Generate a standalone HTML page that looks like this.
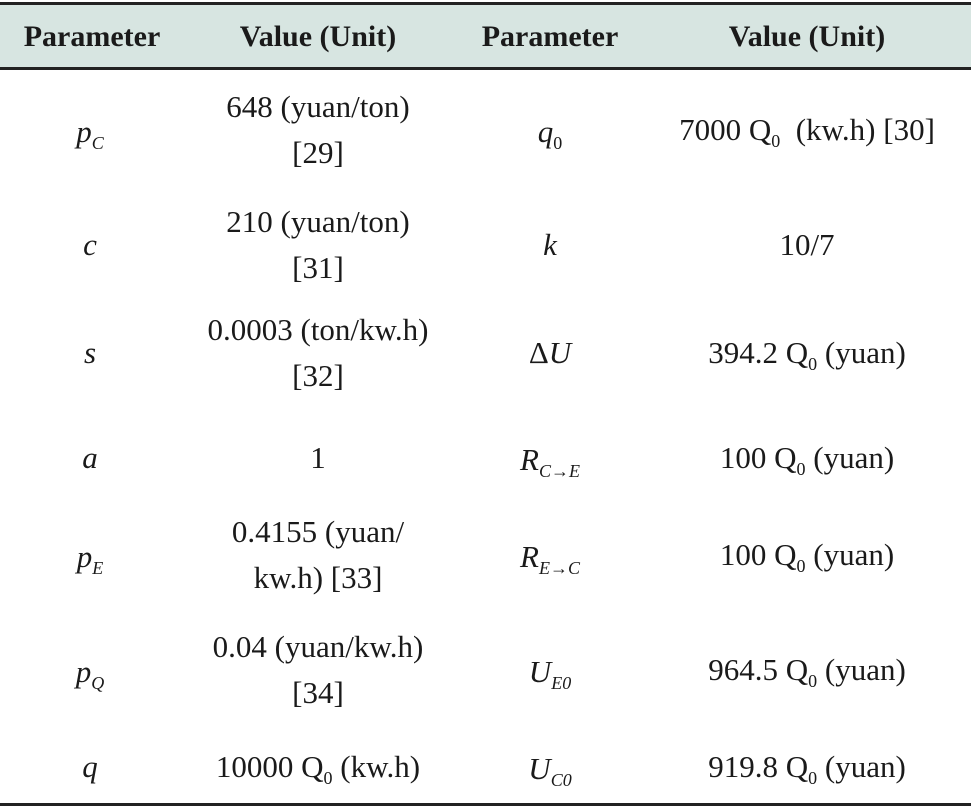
<!DOCTYPE html>
<html><head><meta charset="utf-8"><style>
body{margin:0;width:971px;height:808px;background:#fff;overflow:hidden;font-family:"Liberation Serif",serif;color:#1a1a1a;position:relative}
.hdr{position:absolute;left:0;top:2px;width:971px;height:68px;background:#d7e5e1;border-top:3px solid #222;border-bottom:3px solid #222;box-sizing:border-box}
.c{position:absolute;transform:translate(-50%,-50%);text-align:center;font-size:31px;line-height:46px;white-space:nowrap}
.h{font-weight:bold;font-size:30px}
i{font-style:italic}
sub{font-size:18px;vertical-align:-7px;line-height:0}
.bot{position:absolute;left:0;top:803px;width:971px;height:3px;background:#222}
</style></head><body>
<div class="hdr"></div>
<div class="c h" style="left:92px;top:37px">Parameter</div>
<div class="c h" style="left:318px;top:37px">Value (Unit)</div>
<div class="c h" style="left:550px;top:37px">Parameter</div>
<div class="c h" style="left:807px;top:37px">Value (Unit)</div>

<div class="c" style="left:90px;top:132px"><i>p<sub>C</sub></i></div>
<div class="c" style="left:318px;top:130px">648 (yuan/ton)<br>[29]</div>
<div class="c" style="left:550px;top:132px"><i>q</i><sub>0</sub></div>
<div class="c" style="left:807px;top:130px">7000 Q<sub>0</sub>&nbsp; (kw.h) [30]</div>

<div class="c" style="left:90px;top:245px"><i>c</i></div>
<div class="c" style="left:318px;top:245px">210 (yuan/ton)<br>[31]</div>
<div class="c" style="left:550px;top:245px"><i>k</i></div>
<div class="c" style="left:807px;top:245px">10/7</div>

<div class="c" style="left:90px;top:353px"><i>s</i></div>
<div class="c" style="left:318px;top:353px">0.0003 (ton/kw.h)<br>[32]</div>
<div class="c" style="left:550px;top:353px">Δ<i>U</i></div>
<div class="c" style="left:807px;top:353px">394.2 Q<sub>0</sub> (yuan)</div>

<div class="c" style="left:90px;top:458px"><i>a</i></div>
<div class="c" style="left:318px;top:458px">1</div>
<div class="c" style="left:550px;top:460px"><i>R<sub>C→E</sub></i></div>
<div class="c" style="left:807px;top:458px">100 Q<sub>0</sub> (yuan)</div>

<div class="c" style="left:90px;top:557px"><i>p<sub>E</sub></i></div>
<div class="c" style="left:318px;top:555px">0.4155 (yuan/<br>kw.h) [33]</div>
<div class="c" style="left:550px;top:557px"><i>R<sub>E→C</sub></i></div>
<div class="c" style="left:807px;top:555px">100 Q<sub>0</sub> (yuan)</div>

<div class="c" style="left:90px;top:672px"><i>p<sub>Q</sub></i></div>
<div class="c" style="left:318px;top:670px">0.04 (yuan/kw.h)<br>[34]</div>
<div class="c" style="left:550px;top:672px"><i>U<sub>E0</sub></i></div>
<div class="c" style="left:807px;top:670px">964.5 Q<sub>0</sub> (yuan)</div>

<div class="c" style="left:90px;top:767px"><i>q</i></div>
<div class="c" style="left:318px;top:767px">10000 Q<sub>0</sub> (kw.h)</div>
<div class="c" style="left:550px;top:769px"><i>U<sub>C0</sub></i></div>
<div class="c" style="left:807px;top:767px">919.8 Q<sub>0</sub> (yuan)</div>

<div class="bot"></div>
</body></html>
